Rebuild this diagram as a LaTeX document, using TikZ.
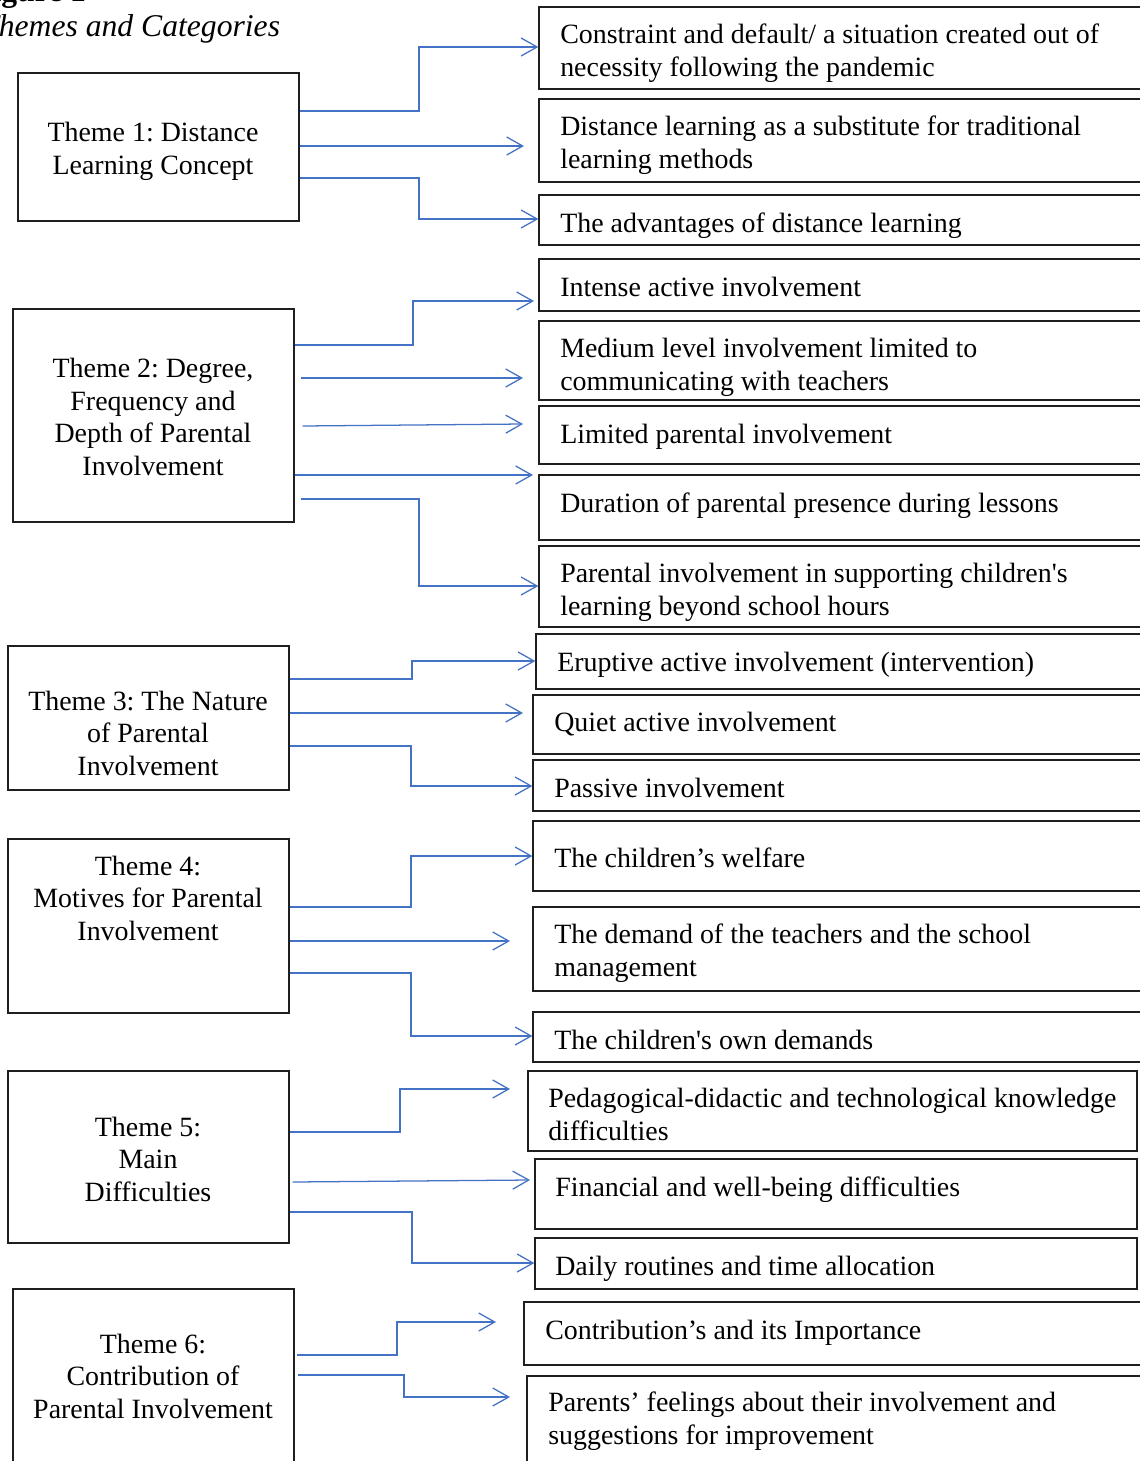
\documentclass[tikz,border=0pt]{standalone}
\usepackage{fontspec}
\setmainfont{Liberation Serif}[Ligatures=TeXOff]
\usetikzlibrary{arrows.meta}
\definecolor{linkblue}{HTML}{4472C4}
\newcommand{\mkbox}[5]{%
  \node[boxst, minimum width={((#4)-(#2))*0.025cm}, minimum height={((#5)-(#3))*0.025cm}]
    (#1) at ({((#2)+(#4))/2},{((#3)+(#5))/2}) {};}
\begin{document}
\frenchspacing
\begin{tikzpicture}[x=0.025cm, y=-0.025cm,
  boxst/.style={draw=black!88, line width=0.9pt, inner sep=0pt, fill=none},
  lab/.style={inner sep=0pt, align=left, anchor=base west, font=\fontsize{19.85}{23}\selectfont\frenchspacing},
  thlab/.style={inner sep=0pt, align=center, anchor=base, font=\fontsize{19.85}{23}\selectfont\frenchspacing},
  arr/.style={draw=linkblue, line width=0.9pt, -{Straight Barb[length=0.4cm, width=0.45cm]}}]
\useasboundingbox (0,0) rectangle (1139,1461);

% title (cut at the top-left edge as in the reference)
\node[inner sep=0pt, anchor=base west, font=\fontsize{22.5}{27}\selectfont\bfseries] (fig) at (-27,1) {Figure 1};
\node[inner sep=0pt, anchor=base west, font=\fontsize{22.5}{27}\selectfont\itshape] (title) at (-19,36) {Themes and Categories};

% theme boxes
\mkbox{t1}{18}{73}{299}{221}
\mkbox{t2}{13}{309}{294}{522}
\mkbox{t3}{8}{646}{289}{790}
\mkbox{t4}{8}{839}{289}{1013}
\mkbox{t5}{8}{1071}{289}{1243}
\mkbox{t6}{13}{1289}{294}{1475}

% (base anchor = baseline of the last line)
\node[thlab] (t1l) at (153,174) {Theme 1: Distance\\Learning Concept};
\node[thlab] (t2l) at (153,475) {Theme 2: Degree,\\Frequency and\\Depth of Parental\\Involvement};
\node[thlab] (t3l) at (148,775) {Theme 3: The Nature\\of Parental\\Involvement};
\node[thlab] (t4l) at (148,940) {Theme 4:\\Motives for Parental\\Involvement};
\node[thlab] (t5l) at (148,1201) {Theme 5:\\Main\\Difficulties};
\node[thlab] (t6l) at (153,1418) {Theme 6:\\Contribution of\\Parental Involvement};

% category boxes
\mkbox{c1}{539}{7}{1150}{89}
\mkbox{c2}{539}{99}{1150}{182}
\mkbox{c3}{539}{195}{1150}{245}
\mkbox{c4}{539}{259}{1150}{311}
\mkbox{c5}{539}{321}{1150}{400}
\mkbox{c6}{539}{406}{1150}{464}
\mkbox{c7}{539}{475}{1150}{540}
\mkbox{c8}{539}{546}{1150}{627}
\mkbox{c9}{536}{634}{1150}{689}
\mkbox{c10}{533}{695}{1150}{754}
\mkbox{c11}{533}{760}{1150}{811}
\mkbox{c12}{533}{821}{1150}{891}
\mkbox{c13}{533}{907}{1150}{991}
\mkbox{c14}{533}{1012}{1150}{1062}
\mkbox{c15}{528}{1071}{1137}{1151}
\mkbox{c16}{535}{1159}{1137}{1229}
\mkbox{c17}{535}{1238}{1137}{1289}
\mkbox{c18}{524}{1302}{1150}{1365}
\mkbox{c19}{527}{1376}{1150}{1475}

\node[lab] (c1l) at (560,76) {Constraint and default/ a situation created out of\\necessity following the pandemic};
\node[lab] (c2l) at (560,168) {Distance learning as a substitute for traditional\\learning methods};
\node[lab] (c3l) at (560,232) {The advantages of distance learning};
\node[lab] (c4l) at (560,296) {Intense active involvement};
\node[lab] (c5l) at (560,390) {Medium level involvement limited to\\communicating with teachers};
\node[lab] (c6l) at (560,443) {Limited parental involvement};
\node[lab] (c7l) at (560,512) {Duration of parental presence during lessons};
\node[lab] (c8l) at (560,615) {Parental involvement in supporting children's\\learning beyond school hours};
\node[lab] (c9l) at (557,671) {Eruptive active involvement (intervention)};
\node[lab] (c10l) at (554,731) {Quiet active involvement};
\node[lab] (c11l) at (554,797) {Passive involvement};
\node[lab] (c12l) at (554,867) {The children’s welfare};
\node[lab] (c13l) at (554,976) {The demand of the teachers and the school\\management};
\node[lab] (c14l) at (554,1049) {The children's own demands};
\node[lab] (c15l) at (548,1140) {Pedagogical-didactic and technological knowledge\\difficulties};
\node[lab] (c16l) at (555,1196) {Financial and well-being difficulties};
\node[lab] (c17l) at (555,1275) {Daily routines and time allocation};
\node[lab] (c18l) at (545,1339) {Contribution’s and its Importance};
\node[lab] (c19l) at (548,1444) {Parents’ feelings about their involvement and\\suggestions for improvement};

% free arrow ends
\coordinate (e2) at (524,146);
\coordinate (e4) at (534,301);
\coordinate (e5) at (523,378);
\coordinate (e6) at (523,424);
\coordinate (e7) at (533,475);
\coordinate (e10) at (523,713);
\coordinate (e13) at (510,941);
\coordinate (e15) at (510,1089);
\coordinate (e16) at (530,1180);
\coordinate (e18) at (496,1322);
\coordinate (e19) at (510,1397);

% theme 1
\draw[arr] (t1.east |- 0,111) -- (419,111) |- (c1.west |- 0,47);
\draw[arr] (t1.east |- 0,146) -- (e2);
\draw[arr] (t1.east |- 0,178) -- (419,178) |- (c3.west |- 0,219);
% theme 2
\draw[arr] (t2.east |- 0,345) -- (413,345) |- (e4);
\draw[arr] (t2.east |- 0,378) ++(6,0) -- (e5);
\draw[arr] (t2.east |- 0,426) ++(8,0) -- (e6);
\draw[arr] (t2.east |- 0,475) -- (e7);
\draw[arr] (t2.east |- 0,499) ++(6,0) -- (419,499) |- (c8.west |- 0,586);
% theme 3
\draw[arr] (t3.east |- 0,679) -- (412,679) |- (c9.west |- 0,661);
\draw[arr] (t3.east |- 0,713) -- (e10);
\draw[arr] (t3.east |- 0,746) -- (411,746) |- (c11.west |- 0,786);
% theme 4
\draw[arr] (t4.east |- 0,907) -- (411,907) |- (c12.west |- 0,856);
\draw[arr] (t4.east |- 0,941) -- (e13);
\draw[arr] (t4.east |- 0,973) -- (411,973) |- (c14.west |- 0,1036);
% theme 5
\draw[arr] (t5.east |- 0,1132) -- (400,1132) |- (e15);
\draw[arr] (t5.east |- 0,1182) ++(3,0) -- (e16);
\draw[arr] (t5.east |- 0,1212) -- (412,1212) |- (c17.west |- 0,1263);
% theme 6
\draw[arr] (t6.east |- 0,1355) ++(2,0) -- (397,1355) |- (e18);
\draw[arr] (t6.east |- 0,1375) ++(3,0) -- (404,1375) |- (e19);
\end{tikzpicture}
\end{document}
